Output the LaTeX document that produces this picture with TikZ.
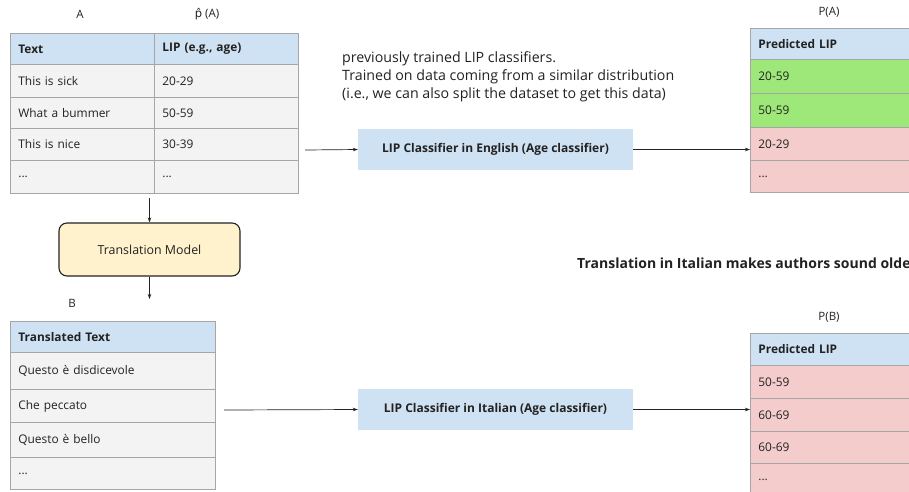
\documentclass[tikz,border=0pt]{standalone}
\usepackage{fontspec}
\setmainfont[Ligatures=NoCommon]{Open Sans}
\newfontfamily\accentfont{DejaVu Sans}
\usetikzlibrary{arrows.meta}
\definecolor{headblue}{HTML}{CFE2F3}
\definecolor{rowgray}{HTML}{F3F3F3}
\definecolor{goodgreen}{HTML}{9EE879}
\definecolor{badpink}{HTML}{F4CCCC}
\definecolor{gridgray}{HTML}{A6A6A6}
\definecolor{cream}{HTML}{FFF2CC}
\definecolor{ink}{HTML}{222222}
\tikzset{
  cell/.style={draw=gridgray, line width=0.8pt, anchor=north west, inner xsep=8pt,
    inner ysep=0pt, align=left, text=ink, font=\fontsize{11.9}{13}\selectfont},
  head/.style={cell, fill=headblue, font=\fontsize{11.9}{13}\selectfont\bfseries},
  body/.style={cell, fill=rowgray},
  good/.style={cell, fill=goodgreen},
  bad/.style={cell, fill=badpink},
  classbox/.style={fill=headblue, minimum width=275pt, minimum height=41pt,
    text=ink, font=\fontsize{12}{13}\selectfont\bfseries},
  tag/.style={text=ink, font=\fontsize{11.5}{13}\selectfont},
  flow/.style={-{Stealth[length=5pt,width=3.5pt]}, line width=0.7pt, draw=ink},
}
\begin{document}
\begin{tikzpicture}[x=1pt,y=-1pt]
\useasboundingbox (0,0) rectangle (909,491);
\clip (0,0) rectangle (909,491);

% table A: source texts with their LIP labels
\node[tag] (labA) at (80,14) {A};
\node[tag] (labPhat) at (207,14) {{\accentfont p̂} (A)};
\node[head, text width=128pt, minimum height=31pt] (a0l) at (10,33) {Text};
\node[head, text width=128pt, minimum height=31pt] (a0r) at (154,33) {LIP (e.g., age)};
\node[body, text width=128pt, minimum height=33pt] (a1l) at (10,64) {This is sick};
\node[body, text width=128pt, minimum height=33pt] (a1r) at (154,64) {20-29};
\node[body, text width=128pt, minimum height=31pt] (a2l) at (10,97) {What a bummer};
\node[body, text width=128pt, minimum height=31pt] (a2r) at (154,97) {50-59};
\node[body, text width=128pt, minimum height=32pt] (a3l) at (10,128) {This is nice};
\node[body, text width=128pt, minimum height=32pt] (a3r) at (154,128) {30-39};
\node[body, text width=128pt, minimum height=33pt] (a4l) at (10,160) {...};
\node[body, text width=128pt, minimum height=33pt] (a4r) at (154,160) {...};

% table P(A): English predictions
\node[tag] (labPA) at (829,12) {P(A)};
\node[head, text width=200pt, minimum height=31pt] (pa0) at (750,28) {Predicted LIP};
\node[good, text width=200pt, minimum height=34pt] (pa1) at (750,59) {20-59};
\node[good, text width=200pt, minimum height=34pt] (pa2) at (750,93) {50-59};
\node[bad, text width=200pt, minimum height=33pt] (pa3) at (750,127) {20-29};
\node[bad, text width=200pt, minimum height=32pt] (pa4) at (750,160) {...};

% explanatory note
\node[anchor=north west, align=left, text=ink, inner sep=0pt,
  font=\fontsize{14.2}{18}\selectfont] (note) at (342,51)
  {previously trained LIP classifiers.\\
   Trained on data coming from a similar distribution\\
   (i.e., we can also split the dataset to get this data)};

% classifiers
\node[classbox] (clsE) at (495.5,149.5) {LIP Classifier in English (Age classifier)};
\node[classbox] (clsI) at (495.5,409.5) {LIP Classifier in Italian (Age classifier)};

% translation step
\node[draw=ink, line width=1.1pt, fill=cream, rounded corners=8pt,
  minimum width=181pt, minimum height=53pt, text=ink,
  font=\fontsize{12.4}{14}\selectfont] (tm) at (149.5,249.5) {Translation Model};

% finding (runs past the right edge)
\node[anchor=west, text=ink, inner sep=0pt, font=\fontsize{14}{16}\selectfont\bfseries]
  (finding) at (577,263) {Translation in Italian makes authors sound older};

% table B: translated texts
\node[tag] (labB) at (72,303) {B};
\node[head, text width=189pt, minimum height=31pt] (b0) at (10,321) {Translated Text};
\node[body, text width=189pt, minimum height=37pt] (b1) at (10,352) {Questo è disdicevole};
\node[body, text width=189pt, minimum height=33pt] (b2) at (10,389) {Che peccato};
\node[body, text width=189pt, minimum height=35pt] (b3) at (10,422) {Questo è bello};
\node[body, text width=189pt, minimum height=32pt] (b4) at (10,457) {...};

% table P(B): Italian predictions
\node[tag] (labPB) at (829,317) {P(B)};
\node[head, text width=200pt, minimum height=32pt] (pb0) at (750,333) {Predicted LIP};
\node[bad, text width=200pt, minimum height=33pt] (pb1) at (750,365) {50-59};
\node[bad, text width=200pt, minimum height=33pt] (pb2) at (750,398) {60-69};
\node[bad, text width=200pt, minimum height=32pt] (pb3) at (750,431) {60-69};
\node[bad, text width=200pt, minimum height=32pt] (pb4) at (750,463) {...};

% connectors
\coordinate (srcA) at (305,150);
\coordinate (srcB) at (224,410);
\coordinate (tmOut) at (149.5,299);
\draw[flow] (srcA) -- (clsE.west);
\draw[flow] (clsE.east) -- (clsE.east -| pa3.west);
\draw[flow] (srcB) -- (clsI.west);
\draw[flow] (clsI.east) -- (clsI.east -| pb2.west);
\draw[flow, shorten <=4pt] (tm.north |- a4l.south) -- (tm.north);
\draw[flow] (tm.south) -- (tmOut);
\end{tikzpicture}
\end{document}
